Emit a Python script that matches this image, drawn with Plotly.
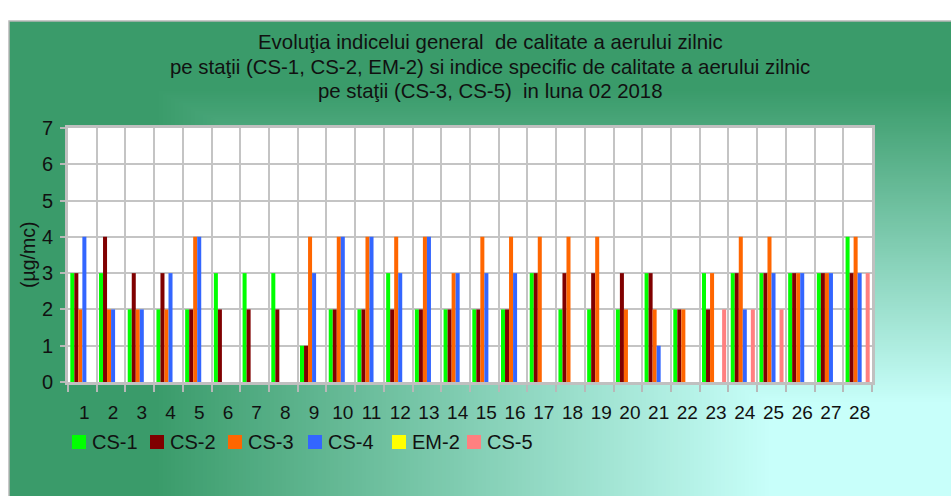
"""
Daily air quality index per station, February 2018.

Grouped bar chart (one group per day, one bar per station) drawn on a
green-to-cyan corner gradient, in the style of the original Excel chart.
"""

from __future__ import annotations

import base64
import struct
import zlib

import numpy as np
import plotly.graph_objects as go

# ══════════════════════════════════════════════
#  Data
# ══════════════════════════════════════════════

DAYS = [str(d) for d in range(1, 29)]

CS_1 = [3, 3, 2, 2, 2, 3, 3, 3, 1, 2, 2, 3, 2, 2, 2, 2, 3, 2, 2, 2, 3, 2, 3, 3, 3, 3, 3, 4]
CS_2 = [3, 4, 3, 3, 2, 2, 2, 2, 1, 2, 2, 2, 2, 2, 2, 2, 3, 3, 3, 3, 3, 2, 2, 3, 3, 3, 3, 3]
CS_3 = [2, 2, 2, 2, 4, None, None, None, 4, 4, 4, 4, 4, 3, 4, 4, 4, 4, 4, 2, 2, 2, 3, 4, 4, 3, 3, 4]
CS_4 = [4, 2, 2, 3, 4, None, None, None, 3, 4, 4, 3, 4, 3, 3, 3, None, None, None, None, 1, None,
        None, 2, 3, 3, 3, 3]
EM_2 = [None] * 28
CS_5 = [None] * 22 + [2, 2, 2, None, None, 3]

SERIES = [
    ("CS-1", CS_1, "#00ff00"),
    ("CS-2", CS_2, "#800000"),
    ("CS-3", CS_3, "#ff6600"),
    ("CS-4", CS_4, "#3366ff"),
    ("EM-2", EM_2, "#ffff00"),
    ("CS-5", CS_5, "#ff8080"),
]

TITLE_LINES = [
    "Evoluţia indicelui general  de calitate a aerului zilnic",
    "pe staţii (CS-1, CS-2, EM-2) si indice specific de calitate a aerului zilnic",
    "pe staţii (CS-3, CS-5)  in luna 02 2018",
]
Y_TITLE = "(µg/mc)"

# ══════════════════════════════════════════════
#  Layout constants (page pixels)
# ══════════════════════════════════════════════

W, H = 951, 496
PLOT_L, PLOT_R, PLOT_T, PLOT_B = 68, 872, 128, 382
BOX_X0, BOX_Y0 = 9, 21
LEGEND_X = [72, 150, 228, 308, 392, 467]
LEGEND_Y = 442
_FONT = "Liberation Sans, Arial, sans-serif"
_GRID = "#c4c4c4"
_TEXT = "#111111"


def px_x(x: float) -> float:
    """Pixel -> paper x."""
    return (x - PLOT_L) / (PLOT_R - PLOT_L)


def px_y(y: float) -> float:
    """Pixel -> paper y."""
    return (PLOT_B - y) / (PLOT_B - PLOT_T)


def _png(img: np.ndarray) -> str:
    """Encode an RGB uint8 array as a PNG data URI."""
    h, w, _ = img.shape

    def chunk(tag: bytes, data: bytes) -> bytes:
        return (struct.pack(">I", len(data)) + tag + data
                + struct.pack(">I", zlib.crc32(tag + data) & 0xFFFFFFFF))

    raw = b"".join(b"\x00" + row.tobytes() for row in img)
    png = (b"\x89PNG\r\n\x1a\n"
           + chunk(b"IHDR", struct.pack(">IIBBBBB", w, h, 8, 2, 0, 0, 0))
           + chunk(b"IDAT", zlib.compress(raw, 9))
           + chunk(b"IEND", b""))
    return "data:image/png;base64," + base64.b64encode(png).decode()


def corner_gradient(w: int, h: int) -> str:
    """Excel-like 'from corner' gradient: light in the bottom-right corner."""
    xs = np.linspace(BOX_X0, W, w)
    ys = np.linspace(BOX_Y0, H, h)
    gx, gy = np.meshgrid(xs, ys)
    d = np.maximum((960 - gx) / 940, (500 - gy) / 480)
    t = np.clip((0.86 - d) / (0.86 - 0.20), 0, 1)[..., None]
    dark = np.array([58, 155, 106])
    light = np.array([200, 255, 250])
    return _png((dark + t * (light - dark)).round().astype(np.uint8))


# ══════════════════════════════════════════════
#  Figure
# ══════════════════════════════════════════════

def build_figure() -> go.Figure:
    fig = go.Figure()
    for i, (name, values, color) in enumerate(SERIES):
        fig.add_trace(go.Bar(
            x=DAYS, y=values, name=name,
            marker=dict(color=color, line=dict(width=0)),
            offsetgroup=str(i),
        ))

    for line, y in zip(TITLE_LINES, [42, 67, 91]):
        fig.add_annotation(
            text=line, x=px_x(490), y=px_y(y), xref="paper", yref="paper",
            showarrow=False, xanchor="center", yanchor="middle",
            font=dict(size=20.4, color=_TEXT, family=_FONT),
        )
    fig.add_annotation(
        text=Y_TITLE, textangle=-90, x=px_x(28), y=0.5, xref="paper", yref="paper",
        showarrow=False, xanchor="center", yanchor="middle",
        font=dict(size=19.5, color=_TEXT, family=_FONT),
    )

    # Excel-style legend: square swatch + label
    for (name, _, color), lx in zip(SERIES, LEGEND_X):
        fig.add_shape(
            type="rect", xref="paper", yref="paper",
            x0=px_x(lx), x1=px_x(lx + 14), y0=px_y(LEGEND_Y + 7), y1=px_y(LEGEND_Y - 7),
            line=dict(width=0), fillcolor=color,
        )
        fig.add_annotation(
            text=name, x=px_x(lx + 18), y=px_y(LEGEND_Y), xref="paper", yref="paper",
            showarrow=False, xanchor="left", yanchor="middle",
            font=dict(size=20, color=_TEXT, family=_FONT),
        )

    # chart-area gradient, then the white plot area on top of it
    fig.add_layout_image(
        source=corner_gradient(236, 119), xref="paper", yref="paper",
        x=px_x(BOX_X0), y=px_y(BOX_Y0),
        sizex=(W - BOX_X0) / (PLOT_R - PLOT_L),
        sizey=(H - BOX_Y0) / (PLOT_B - PLOT_T),
        xanchor="left", yanchor="top", sizing="stretch", layer="below",
    )
    fig.add_shape(
        type="rect", xref="paper", yref="paper", layer="below",
        x0=px_x(BOX_X0), y0=px_y(H + 10), x1=px_x(W + 10), y1=px_y(BOX_Y0),
        line=dict(color="#b8b8b8", width=1.5), fillcolor="rgba(0,0,0,0)",
    )
    fig.add_shape(
        type="rect", xref="paper", yref="paper", layer="below",
        x0=0, y0=0, x1=1, y1=1, line=dict(width=0), fillcolor="white",
    )

    fig.update_layout(
        width=W, height=H,
        margin=dict(l=PLOT_L, r=W - PLOT_R, t=PLOT_T, b=H - PLOT_B, autoexpand=False),
        paper_bgcolor="white", plot_bgcolor="white",
        barmode="group", bargap=0.16, bargroupgap=0,
        font=dict(family=_FONT, size=20, color=_TEXT),
        showlegend=False,
    )
    fig.update_xaxes(
        type="category", tickson="boundaries", tickangle=0,
        showgrid=True, gridcolor=_GRID, gridwidth=1.5,
        ticks="outside", ticklen=7, tickwidth=2, tickcolor="#b8b8b8",
        ticklabelstandoff=11, ticklabelshift=2, tickfont=dict(size=19),
        showline=True, linecolor="#c0c0c0", linewidth=3, mirror=True,
    )
    fig.update_yaxes(
        range=[0, 7], dtick=1, tick0=0,
        showgrid=True, gridcolor=_GRID, gridwidth=1.5, zeroline=False,
        ticks="outside", ticklen=5, tickwidth=2, tickcolor="#b8b8b8",
        ticklabelstandoff=3, tickfont=dict(size=20),
        showline=True, linecolor="#c0c0c0", linewidth=3, mirror=True,
    )
    return fig


def main() -> None:
    fig = build_figure()
    # figure fills the whole window: drop the default body margin
    fig.write_html(
        "out.html",
        config={"displayModeBar": False},
        post_script="document.body.style.margin = '0'; document.body.style.overflow = 'hidden';",
    )


if __name__ == "__main__":
    main()
